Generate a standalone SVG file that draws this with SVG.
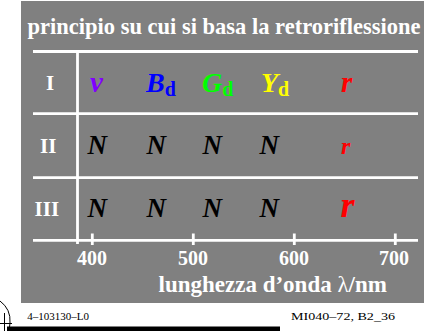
<svg xmlns="http://www.w3.org/2000/svg" width="424" height="331" viewBox="0 0 424 331">
<style>
.w{fill:#ffffff;font-family:"Liberation Serif",serif;font-weight:bold}
.s{font-family:"Liberation Serif",serif;font-weight:bold;font-style:italic}
.sub{font-style:normal;font-size:20px}
.wl{stroke:#ffffff;stroke-width:2.8;fill:none}
.k{fill:#000000;font-family:"Liberation Serif",serif;font-size:11px}
</style>
<rect x="21" y="1" width="404" height="302" fill="#808080"/>
<g id="title"><text class="w" x="27.5" y="33.5" font-size="22.5">principio su cui si basa la retroriflessione</text></g>
<g id="connectors">
<line class="wl" x1="33" y1="51.5" x2="418" y2="51.5"/>
<line class="wl" x1="33" y1="113.7" x2="418" y2="113.7"/>
<line class="wl" x1="33" y1="177.7" x2="418" y2="177.7"/>
<line class="wl" x1="77.5" y1="51.5" x2="77.5" y2="244"/>
<line class="wl" x1="33" y1="240.3" x2="418" y2="240.3"/>
<line class="wl" x1="92.3" y1="233.5" x2="92.3" y2="245"/>
<line class="wl" x1="193.3" y1="233.5" x2="193.3" y2="245"/>
<line class="wl" x1="294.3" y1="233.5" x2="294.3" y2="245"/>
<line class="wl" x1="395.3" y1="233.5" x2="395.3" y2="245"/>
</g>
<g id="row1">
<text class="w" x="50" y="90" font-size="21" text-anchor="middle">I</text>
<text class="s" x="90" y="92" font-size="29" fill="#8000ff">v</text>
<text class="s" x="146" y="92" font-size="28" fill="#0000ff">B<tspan class="sub" dy="4">d</tspan></text>
<text class="s" x="202" y="92" font-size="28" fill="#00ff00">G<tspan class="sub" dy="4">d</tspan></text>
<text class="s" x="261" y="92" font-size="28" fill="#ffff00">Y<tspan class="sub" dy="4">d</tspan></text>
<text class="s" x="341" y="92" font-size="29" fill="#ff0000">r</text>
</g>
<g id="row2">
<text class="w" x="48.3" y="152.7" font-size="21" text-anchor="middle">II</text>
<text class="s" x="87.5" y="154" font-size="27" fill="#000">N</text>
<text class="s" x="146.5" y="154" font-size="27" fill="#000">N</text>
<text class="s" x="202.5" y="154" font-size="27" fill="#000">N</text>
<text class="s" x="259.5" y="154" font-size="27" fill="#000">N</text>
<text class="s" x="341" y="154" font-size="24" fill="#ff0000">r</text>
</g>
<g id="row3">
<text class="w" x="46.8" y="215.7" font-size="21" text-anchor="middle">III</text>
<text class="s" x="87.5" y="216.5" font-size="27" fill="#000">N</text>
<text class="s" x="146.5" y="216.5" font-size="27" fill="#000">N</text>
<text class="s" x="202.5" y="216.5" font-size="27" fill="#000">N</text>
<text class="s" x="259.5" y="216.5" font-size="27" fill="#000">N</text>
<text class="s" x="340.5" y="217" font-size="36" fill="#ff0000">r</text>
</g>
<g id="axis">
<text class="w" x="92" y="265" font-size="20" text-anchor="middle">400</text>
<text class="w" x="193" y="265" font-size="20" text-anchor="middle">500</text>
<text class="w" x="294" y="265" font-size="20" text-anchor="middle">600</text>
<text class="w" x="394" y="265" font-size="20" text-anchor="middle">700</text>
<text class="w" x="158.5" y="291.5" font-size="23">lunghezza d’onda <tspan font-weight="normal">λ</tspan>/nm</text>
</g>
<g id="footer">
<text class="k" x="27.3" y="320" font-size="10.5">4–103130–L0</text>
<text class="k" x="291" y="320" textLength="104" lengthAdjust="spacingAndGlyphs">MI040–72, B2_36</text>
<rect x="7" y="326.5" width="273" height="5" fill="#000"/>
<path d="M0,301 A25,25 0 0 1 10,323 A25,25 0 0 1 7,335" fill="none" stroke="#000" stroke-width="1"/>
<line x1="0" y1="323.5" x2="12" y2="323.5" stroke="#000" stroke-width="1"/>
<line x1="4.5" y1="313" x2="4.5" y2="331" stroke="#000" stroke-width="1"/>
</g>
</svg>
